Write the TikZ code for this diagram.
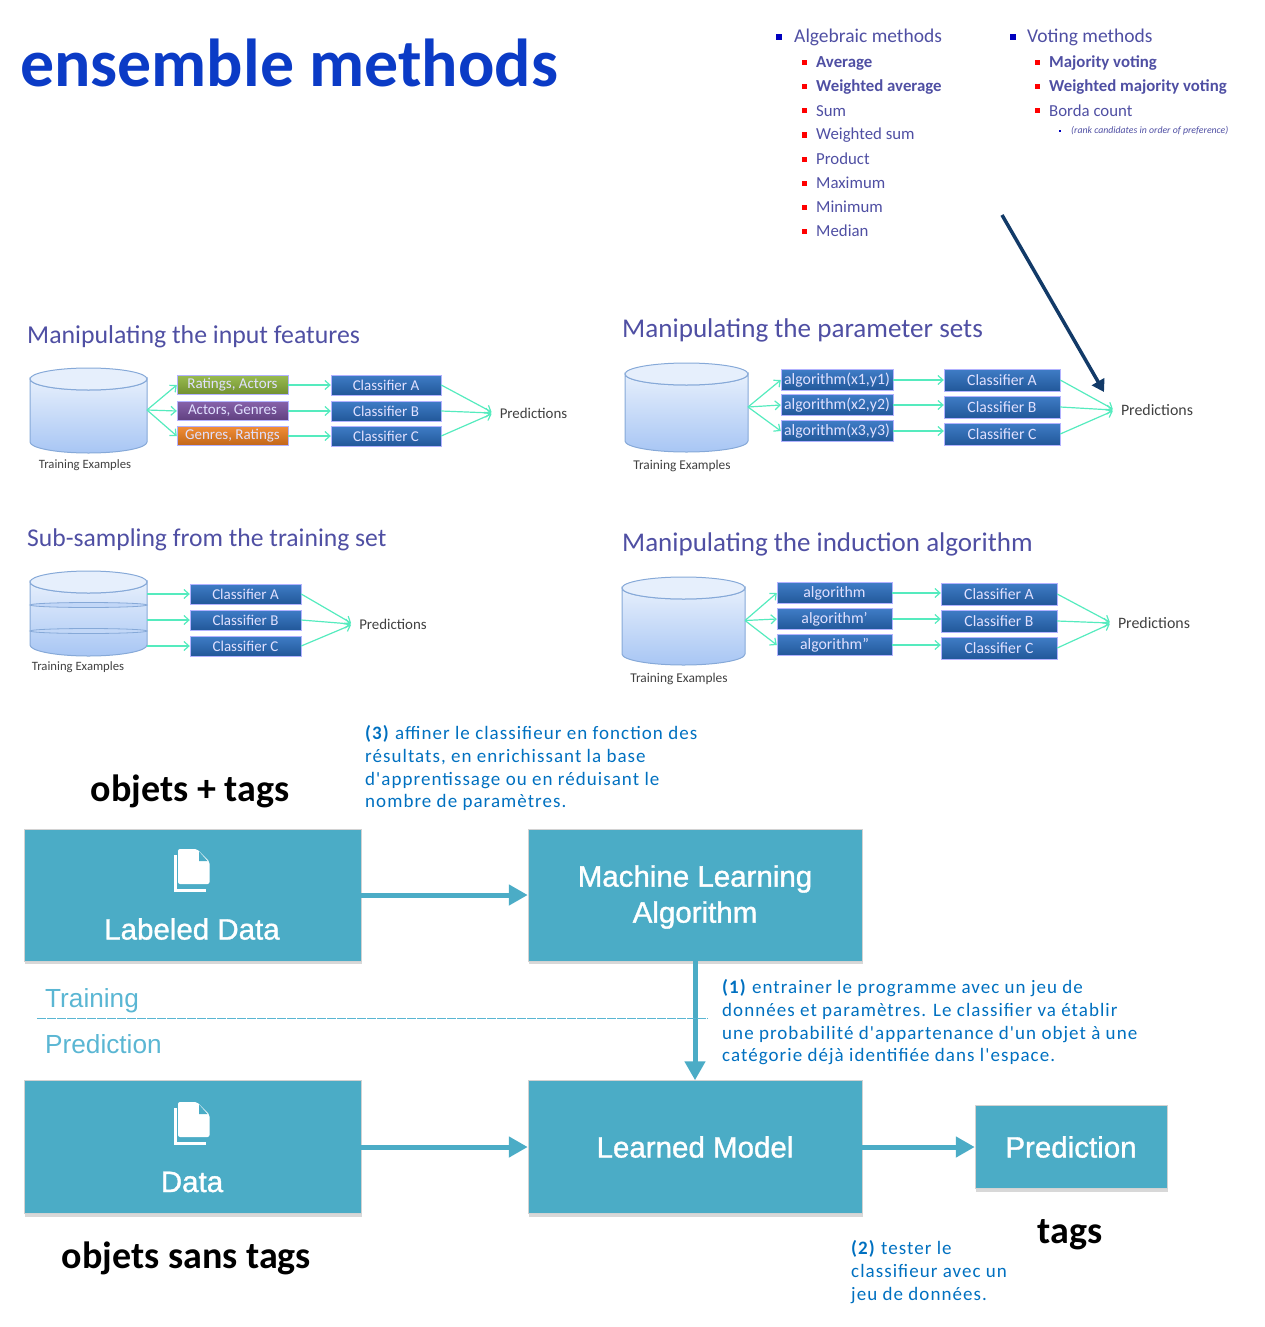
\documentclass[tikz,border=0pt]{standalone}
\usepackage{fontspec}
\setmainfont{Carlito}
\newfontfamily\notefont[LetterSpace=5.5]{Carlito}
\newfontfamily\boxfont[FakeBold=1.2]{Liberation Sans}
\newfontfamily\sidefont{Liberation Sans}
\usetikzlibrary{arrows.meta,shadows}

\definecolor{titleblue}{HTML}{0B3BC6}
\definecolor{slideblue}{HTML}{4F4FA3}
\definecolor{tealfill}{HTML}{4BACC6}
\definecolor{lightteal}{HTML}{5AB6D3}
\definecolor{mint}{HTML}{55EBBE}
\definecolor{notecol}{HTML}{0070C0}
\definecolor{clsblue}{HTML}{2A6EC0}
\definecolor{dbedge}{HTML}{86A9D8}
\definecolor{dbtop}{HTML}{E6EFFC}
\definecolor{dbbottom}{HTML}{A8C6F4}
\definecolor{navyarrow}{HTML}{123A68}
\definecolor{boxgreen}{HTML}{8DB33C}
\definecolor{boxpurple}{HTML}{7850A0}
\definecolor{boxorange}{HTML}{F08020}

\tikzset{
  sz/.style={font=\fontsize{#1}{#1}\selectfont, inner sep=0pt},
  clsbox/.style={draw=white!70!blue, top color=#1!90!white, bottom color=#1!80!black, text=white!88!blue, inner sep=0pt},
  tealbox/.style={fill=tealfill, draw=gray!35, line width=0.5pt, inner sep=0pt, drop shadow={shadow xshift=1pt, shadow yshift=-3pt, fill=gray!60, opacity=0.5}},
  bigarrow/.style={draw=tealfill, line width=5pt, -{Triangle[length=19pt,width=20pt]}},
  thinarrow/.style={draw=mint, line width=1.2pt, -{Straight Barb[length=5pt,width=9pt]}},
  boxtext/.style={text=white, align=center, inner sep=0pt, font=\boxfont\fontsize{#1}{36}\selectfont},
  notetext/.style={text=notecol, align=left, anchor=north west, inner sep=0pt, font=\notefont\fontsize{19}{22.6}\selectfont},
  docicon/.pic={
    % back sheet, then front sheet with its folded corner
    \draw[white, line width=3.2pt] (-16.3,-15) -- (-16.3,20.7) -- (13.7,20.7);
    \fill[white, rounded corners=2pt] (-14,-21) -- (5,-21) -- (17.5,-8.5) -- (17.5,14) -- (-14,14) -- cycle;
    \fill[tealfill] (7,-18.5) -- (7,-9) -- (15.5,-9) -- cycle;
  }
}

\begin{document}
\begin{tikzpicture}[x=1pt, y=-1pt]
  \useasboundingbox (0,0) rectangle (1264,1327);

  % Main title
  \node[anchor=west, inner sep=0pt, text=titleblue, font=\bfseries\fontsize{67.8}{68}\selectfont] (title) at (20,63) {ensemble methods};

  % Lists of combining methods
  \node[sz=19.5, anchor=west, text=slideblue] (alg) at (794,37.5) {Algebraic methods};
  \node[fill=blue!75!black, minimum size=6pt, inner sep=0pt] (algb) at (779,37) {};
  \foreach \y/\lab/\wt in {62/Average/\bfseries, 86/Weighted average/\bfseries, 110/Sum/, 134/Weighted sum/, 158/Product/, 182/Maximum/, 206/Minimum/, 230/Median/} {
    \node[fill=red, minimum size=5pt, inner sep=0pt] (algb\y) at (804,\y+1) {};
    \node[sz=16.8, anchor=west, text=slideblue] (algt\y) at (816,\y+1) {\wt\lab};
  }
  \node[sz=19.5, anchor=west, text=slideblue] (vot) at (1027,37.5) {Voting methods};
  \node[fill=blue!75!black, minimum size=6pt, inner sep=0pt] (votb) at (1013,37) {};
  \foreach \y/\lab/\wt in {62/Majority voting/\bfseries, 86/Weighted majority voting/\bfseries, 110/Borda count/} {
    \node[fill=red, minimum size=5pt, inner sep=0pt] (votb\y) at (1037,\y+1) {};
    \node[sz=16.8, anchor=west, text=slideblue] (vott\y) at (1049,\y+1) {\wt\lab};
  }
  \node[fill=blue!75!black, minimum size=2.5pt, inner sep=0pt] (rankb) at (1060,131) {};
  \node[sz=9.8, anchor=west, text=slideblue] (rank) at (1071,130.5) {\itshape (rank candidates in order of preference)};

  % Panel titles
  \foreach \x/\y/\s/\lab in {27/337/25.8/Manipulating the input features, 622/330/27.1/Manipulating the parameter sets, 27/540/25.6/Sub-sampling from the training set, 622/544/27/Manipulating the induction algorithm} {
    \node[sz=\s, anchor=west, text=slideblue] at (\x,\y) {\lab};
  }

  % Databases
  \foreach \pid/\xl/\xr/\yt/\yb/\tx/\ty/\s in {1/30/147/368/453/85/465.5/12.7, 2/625/748/363/452/682/465.5/13.4, 3/30/147/571/656/78/667.5/12.7, 4/622/745/577/665/679/678.5/13.4} {
    \draw[draw=dbedge, line width=1pt, top color=dbtop, bottom color=dbbottom]
      (\xl,\yt+11) -- (\xl,\yb-11) arc[start angle=180, end angle=0, x radius={(\xr-\xl)/2}, y radius=11]
      -- (\xr,\yt+11) arc[start angle=0, end angle=180, x radius={(\xr-\xl)/2}, y radius=11] -- cycle;
    \draw[draw=dbedge, line width=1pt, fill=dbtop] ({(\xl+\xr)/2},\yt+11) ellipse[x radius={(\xr-\xl)/2}, y radius=11];
    \coordinate (db\pid) at (\xr,{(\yt+\yb)/2-0.5});
    \node[sz=\s, text=black!75] (train\pid) at (\tx,\ty) {Training Examples};
  }
  % Slices of the sub-sampled database
  \foreach \y in {605,631} {
    \draw[draw=dbedge, line width=0.8pt, fill=dbbottom!70!white] (88.5,\y) ellipse[x radius=58.5, y radius=2.5];
  }

  % Classifiers and predictions
  \foreach \pid/\cx/\bw/\bh/\ya/\yb/\yc/\px/\py/\s/\t in {1/386/110/20/385/411/436/533.5/413/14.9/15, 2/1002/116/22/380/407/434/1157/410/15.9/15.7, 3/245.5/111/20/594/620/646/393/624/14.9/15, 4/999/116/22/594/621/648/1154/623/15.9/15.7} {
    \foreach \cl/\yy in {A/\ya, B/\yb, C/\yc} {
      \node[clsbox=clsblue, sz=\t, minimum width=\bw pt, minimum height=\bh pt] (cls\cl\pid) at (\cx,\yy) {Classifier \cl};
    }
    \node[sz=\s, text=black!75] (pred\pid) at (\px,\py) {Predictions};
    \draw[thinarrow] (clsA\pid.east) -- ([xshift=-8pt,yshift=1pt]pred\pid.west);
    \draw[thinarrow] (clsB\pid.east) -- ([xshift=-8pt]pred\pid.west);
    \draw[thinarrow] (clsC\pid.east) -- ([xshift=-8pt,yshift=-1pt]pred\pid.west);
  }

  % Middle boxes
  \foreach \nm/\lab/\col/\y in {m1A/{Ratings, Actors}/boxgreen/385, m1B/{Actors, Genres}/boxpurple/411, m1C/{Genres, Ratings}/boxorange/436} {
    \node[clsbox=\col, sz=15, minimum width=111pt, minimum height=19pt] (\nm) at (232.5,\y) {\lab};
  }
  \foreach \nm/\lab/\y in {m2A/{algorithm(x1,y1)}/380, m2B/{algorithm(x2,y2)}/405, m2C/{algorithm(x3,y3)}/431} {
    \node[clsbox=clsblue, sz=15.8, minimum width=112pt, minimum height=21pt] (\nm) at (837,\y) {\lab};
  }
  \foreach \nm/\lab/\y in {m4A/{algorithm}/593, m4B/{algorithm'}/619, m4C/{algorithm''}/645} {
    \node[clsbox=clsblue, sz=15.8, minimum width=115pt, minimum height=21pt] (\nm) at (834.5,\y) {\lab};
  }

  % Thin arrows of the panels
  \foreach \pid in {1,2,4} {
    \foreach \cl in {A,B,C} {
      \draw[thinarrow] (db\pid) -- (m\pid\cl.west);
      \draw[thinarrow] (m\pid\cl.east) -- (cls\cl\pid.west |- m\pid\cl.east);
    }
  }
  \foreach \cl in {A,B,C} {
    \draw[thinarrow] (db3 |- cls\cl3.west) -- (cls\cl3.west);
  }

  % Arrow from the lists to the predictions
  \coordinate (listend) at (1002,215);
  \coordinate (predtop) at (1104,392);
  \draw[draw=navyarrow, line width=3.5pt, -{Triangle[length=12pt,width=14pt]}] (listend) -- (predtop);

  % Lower part: the boxes
  \node[tealbox, minimum width=337pt, minimum height=132pt] (labeled) at (192.5,895) {};
  \node[tealbox, minimum width=334pt, minimum height=132pt] (mlalgo) at (695,895) {};
  \node[tealbox, minimum width=337pt, minimum height=133pt] (unlabeled) at (192.5,1147) {};
  \node[tealbox, boxtext=29.5, minimum width=334pt, minimum height=133pt] (model) at (695,1147) {Learned Model};
  \node[tealbox, boxtext=29.5, minimum width=192pt, minimum height=83pt] (predbox) at (1071,1147) {Prediction};
  \node[boxtext=29.5] (mlalgot) at (695,897) {Machine Learning\\Algorithm};
  \node[boxtext=29.5] (labeledt) at (192,929) {Labeled Data};
  \node[boxtext=29.5] (unlabeledt) at (192,1182) {Data};
  \pic at (192,870) {docicon};
  \pic at (192,1123) {docicon};

  \draw[bigarrow] (labeled.east) -- (mlalgo.west);
  \draw[bigarrow] (mlalgo.south) -- (model.north);
  \draw[bigarrow] (unlabeled.east) -- (model.west);
  \draw[bigarrow] (model.east) -- (predbox.west);

  % Training / prediction separation
  \node[anchor=west, inner sep=0pt, text=lightteal, font=\sidefont\fontsize{26.2}{26.2}\selectfont] (trainlab) at (45,1000.5) {Training};
  \node[anchor=west, inner sep=0pt, text=lightteal, font=\sidefont\fontsize{26.2}{26.2}\selectfont] (predlab) at (45,1044) {Prediction};
  \coordinate (sepl) at (37,1018.5);
  \coordinate (sepr) at (708,1018.5);
  \draw[lightteal, line width=0.7pt, dash pattern=on 9pt off 1pt] (sepl) -- (sepr);

  % Black captions
  \node[inner sep=0pt, font=\bfseries\fontsize{38}{38}\selectfont] (objtags) at (190,791) {objets + tags};
  \node[inner sep=0pt, font=\bfseries\fontsize{38}{38}\selectfont] (objsans) at (186.5,1258) {objets sans tags};
  \node[inner sep=0pt, font=\bfseries\fontsize{38}{38}\selectfont] (tagslab) at (1070,1234.5) {tags};

  % Notes
  \node[notetext] (note3) at (365,725.5) {\textbf{(3)} affiner le classifieur en fonction des\\résultats, en enrichissant la base\\d'apprentissage ou en réduisant le\\nombre de paramètres.};
  \node[notetext] (note1) at (722,979.5) {\textbf{(1)} entrainer le programme avec un jeu de\\données et paramètres. Le classifier va établir\\une probabilité d'appartenance d'un objet à une\\catégorie déjà identifiée dans l'espace.};
  \node[notetext] (note2) at (851,1240.5) {\textbf{(2)} tester le\\classifieur avec un\\jeu de données.};
\end{tikzpicture}
\end{document}
